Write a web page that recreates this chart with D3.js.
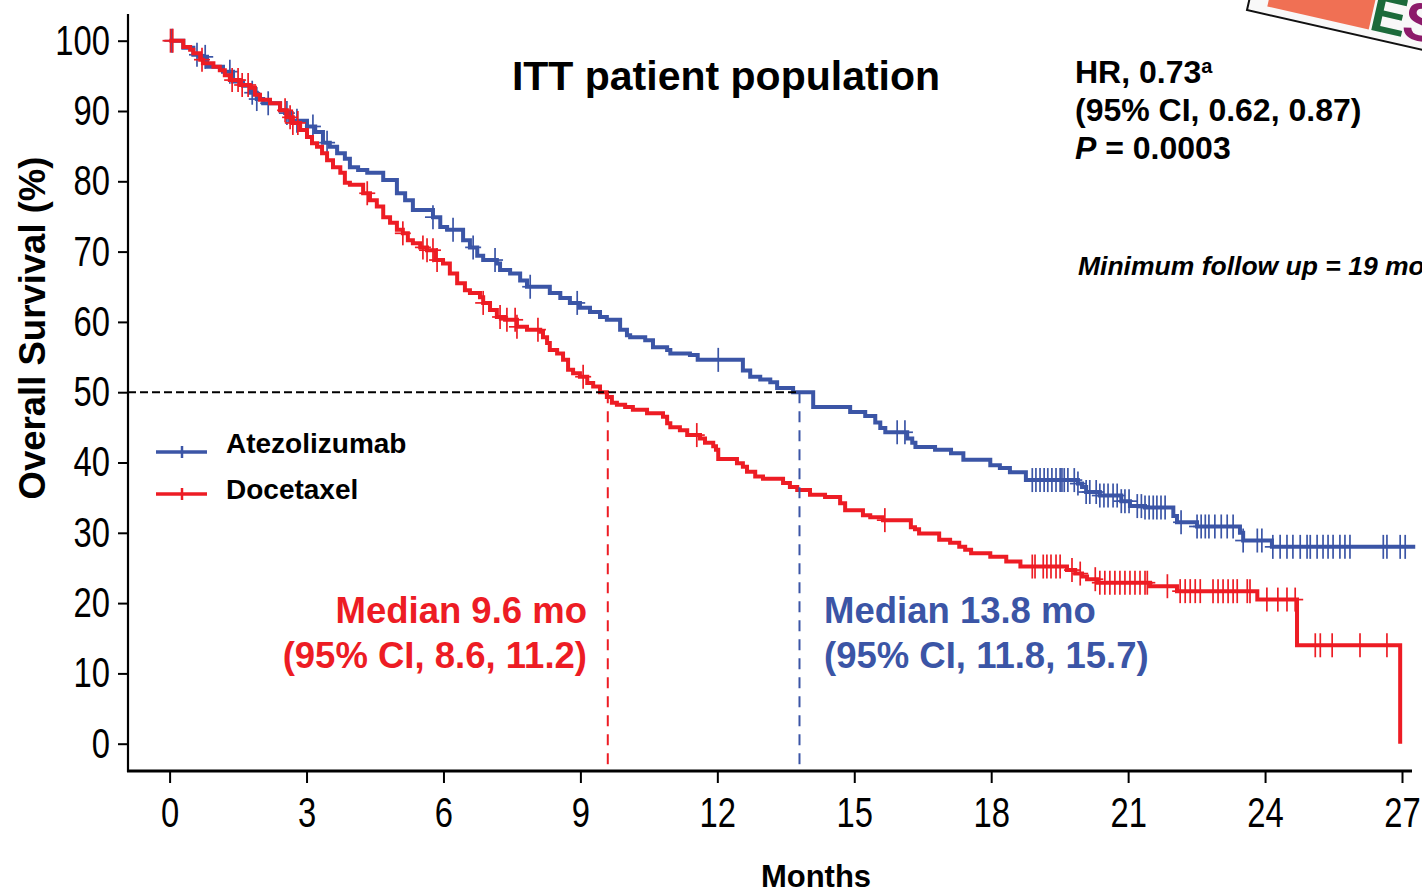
<!DOCTYPE html>
<html><head><meta charset="utf-8">
<script src="https://cdn.jsdelivr.net/npm/d3@7"></script>
<style>body{margin:0;background:#fff}svg{display:block}</style>
</head><body>
<svg id="c" width="1422" height="894"></svg>
<script>
// ---------- data ----------
const monthTicks = [0, 3, 6, 9, 12, 15, 18, 21, 24, 27];
const survTicks = [0, 10, 20, 30, 40, 50, 60, 70, 80, 90, 100];
const seriesNames = ["Atezolizumab", "Docetaxel"];
const medians = [13.8, 9.6];
const medianLabels = [["Median 13.8 mo", "(95% CI, 11.8, 15.7)"], ["Median 9.6 mo", "(95% CI, 8.6, 11.2)"]];

const atezoTime = [0,0.30,0.52,0.66,0.82,1.17,1.39,1.61,1.76,1.91,2.05,2.42,2.53,2.64,3.01,3.19,3.36,3.51,3.67,3.84,3.95,4.13,4.33,4.68,4.98,5.16,5.33,5.77,5.93,6.08,6.43,6.58,6.74,6.87,7.17,7.24,7.46,7.68,7.83,8.33,8.56,8.77,8.99,9.21,9.43,9.58,9.87,10.02,10.09,10.42,10.59,10.90,10.97,11.40,11.57,12.56,12.72,12.94,13.16,13.31,13.66,14.10,14.91,15.24,15.46,15.57,15.68,16.16,16.27,16.34,16.77,17.12,17.39,17.98,18.19,18.41,18.76,19.90,19.99,20.08,20.38,20.85,21.04,21.37,21.99,22.07,22.51,23.45,23.52,24.15,27.29];
const atezoSurv = [100,99,98,97.7,96.3,95.6,94.2,93.6,92.6,91.7,91.1,90.1,89.7,88.6,87.8,87.0,85.5,84.9,84.0,83.2,82.0,81.6,81.2,80.2,78.3,77.3,75.9,74.9,73.5,73.1,71.6,70.6,69.4,68.8,68.3,67.4,66.9,65.9,65.0,64.1,63.4,62.7,62.0,61.4,60.7,60.3,58.9,58.1,57.8,57.4,56.4,56.0,55.5,55.3,54.6,53.1,52.2,51.8,51.4,50.6,50.0,47.9,47.2,46.6,45.7,44.9,44.3,43.4,42.8,42.2,41.8,41.3,40.4,39.6,39.2,38.6,37.5,37.0,36.5,35.8,35.3,34.5,33.8,33.6,32.4,31.5,30.9,30.0,28.9,28.0,28.0];

const doceTime = [0,0.30,0.45,0.52,0.67,0.73,0.96,1.10,1.21,1.32,1.54,1.76,1.87,1.98,2.20,2.42,2.57,2.70,2.86,3.01,3.12,3.23,3.34,3.45,3.58,3.74,3.84,3.95,4.24,4.39,4.54,4.68,4.83,4.98,5.11,5.22,5.33,5.49,5.64,5.82,5.99,6.14,6.30,6.47,6.58,6.80,6.87,7.02,7.17,7.35,7.61,7.83,8.12,8.18,8.27,8.33,8.49,8.62,8.73,8.84,8.99,9.15,9.28,9.43,9.58,9.69,9.80,9.98,10.15,10.46,10.81,10.90,10.97,11.18,11.34,11.62,11.73,11.91,11.97,12.02,12.43,12.56,12.65,12.83,13.00,13.44,13.59,13.75,14.03,14.36,14.69,14.80,15.19,15.35,15.63,16.24,16.33,16.42,16.86,17.10,17.30,17.43,17.56,17.98,18.33,18.64,19.66,19.84,19.99,20.10,20.32,21.48,22.07,23.83,24.70,26.96];
const doceSurv = [100,99.1,98.7,98.2,97.3,96.8,96.3,95.8,95.1,94.4,93.7,93.3,92.3,91.6,91.1,90.1,89.1,88.3,87.3,86.3,85.4,84.9,84.0,83.0,82.0,81.2,79.8,79.5,78.3,77.3,76.4,74.9,74.1,73.1,72.6,71.6,71.2,70.6,70.2,68.8,68.3,66.9,65.5,64.5,64.1,63.5,62.7,61.7,60.7,60.3,59.3,58.9,58.6,57.8,57.0,56.0,55.5,54.6,53.2,52.7,52.2,51.3,50.8,50.0,49.3,48.5,48.2,47.9,47.5,47.0,46.5,45.6,45.0,44.6,43.9,43.4,42.8,42.3,41.8,40.5,39.9,39.4,38.7,38.0,37.7,37.1,36.5,36.1,35.4,35.1,34.2,33.2,32.5,32.2,31.8,30.8,30.5,29.9,29.0,28.6,28.0,27.6,27.1,26.6,25.9,25.2,24.7,24.2,23.8,23.4,22.9,22.4,21.7,20.5,14.0,0];

const atezoCensor = [0.05,0.60,0.78,1.32,1.81,1.91,2.16,2.57,2.79,3.14,3.45,5.77,6.21,6.65,7.13,7.90,8.93,12.02,15.94,16.11,18.90,18.98,19.07,19.16,19.24,19.33,19.42,19.51,19.55,19.60,19.68,19.82,19.90,20.08,20.16,20.30,20.38,20.47,20.56,20.67,20.76,20.85,20.93,21.02,21.20,21.29,21.37,21.46,21.55,21.63,21.72,21.81,22.16,22.51,22.60,22.69,22.77,22.90,23.04,23.17,23.30,23.52,23.83,23.93,24.17,24.33,24.48,24.61,24.77,24.92,24.99,25.14,25.27,25.38,25.49,25.64,25.75,25.86,26.59,26.67,26.96,27.07];
const doceCensor = [0.02,0.07,0.71,1.37,1.50,1.59,1.72,2.53,2.64,2.70,2.81,4.33,5.11,5.55,5.64,5.77,5.86,6.87,7.24,7.39,7.57,7.61,8.07,9.06,11.55,15.67,18.90,18.96,19.14,19.22,19.31,19.42,19.51,19.77,19.95,20.28,20.38,20.49,20.60,20.71,20.82,20.93,21.04,21.15,21.26,21.37,21.42,21.86,22.14,22.25,22.36,22.47,22.58,22.86,22.97,23.08,23.19,23.30,23.39,23.61,23.67,24.04,24.28,24.48,24.66,25.10,25.21,25.47,26.08,26.67];

// ---------- setup ----------
const BLUE = "#3B55A6", RED = "#ED1C24";
const FONT = "'Liberation Sans', Arial, Helvetica, sans-serif";
const svg = d3.select("#c").style("font-family", FONT);
const x = d3.scaleLinear().domain([0, 27]).range([169.6, 1402]);
const y = d3.scaleLinear().domain([0, 100]).range([743.7, 40.7]);
const axisX0 = 128, axisY0 = 771;

// logo fragment (top right)
const logo = svg.append("g").attr("transform", "translate(1247,10) rotate(12.8)");
logo.append("rect").attr("x", 0).attr("y", -90).attr("width", 260).attr("height", 90)
  .attr("fill", "#f8f8f8").attr("stroke", "#111").attr("stroke-width", 2);
logo.append("rect").attr("x", 19).attr("y", -100).attr("width", 104).attr("height", 92).attr("fill", "#F07054");
const lt = logo.append("text").attr("x", 122).attr("y", -8).attr("font-size", 54).attr("font-weight", "bold")
  .attr("letter-spacing", -3);
lt.append("tspan").attr("fill", "#1B6A3A").text("E");
lt.append("tspan").attr("fill", "#8C1A6A").text("S");

// axes
const yAxis = d3.axisLeft(y).tickValues(survTicks).tickSize(10).tickPadding(9);
const gy = svg.append("g").attr("transform", `translate(${axisX0},0)`).call(yAxis);
gy.select(".domain").remove();
gy.selectAll(".tick line").attr("stroke", "#000").attr("stroke-width", 2);
gy.selectAll(".tick text").attr("x", null).attr("fill", "#000")
  .attr("font-size", 42).attr("font-family", FONT).attr("text-anchor", "end")
  .attr("transform", "translate(-18,0) scale(0.78,1)");

const xAxis = d3.axisBottom(x).tickValues(monthTicks).tickSize(12).tickPadding(14);
const gx = svg.append("g").attr("transform", `translate(0,${axisY0})`).call(xAxis);
gx.select(".domain").remove();
gx.selectAll(".tick line").attr("stroke", "#000").attr("stroke-width", 2);
gx.selectAll(".tick text").attr("fill", "#000").attr("font-size", 42).attr("font-family", FONT)
  .attr("transform", "scale(0.78,1)");

svg.append("line").attr("x1", axisX0).attr("x2", axisX0).attr("y1", 14).attr("y2", axisY0 + 1)
  .attr("stroke", "#000").attr("stroke-width", 2.2);
svg.append("line").attr("x1", axisX0 - 1).attr("x2", 1412).attr("y1", axisY0).attr("y2", axisY0)
  .attr("stroke", "#000").attr("stroke-width", 3);

// axis titles
svg.append("text").attr("transform", "translate(45,328) rotate(-90)").attr("text-anchor", "middle")
  .attr("font-size", 36.5).attr("font-weight", "bold").attr("fill", "#000").text("Overall Survival (%)");
svg.append("text").attr("x", 816).attr("y", 887).attr("text-anchor", "middle")
  .attr("font-size", 31).attr("font-weight", "bold").attr("fill", "#000").text("Months");

// KM curves
const line = d3.line().x(d => x(d[0])).y(d => y(d[1])).curve(d3.curveStepAfter);
function survAt(times, surv, t) { const i = d3.bisectRight(times, t) - 1; return surv[Math.max(0, i)]; }
const series = [
  { time: atezoTime, surv: atezoSurv, cens: atezoCensor, color: BLUE },
  { time: doceTime, surv: doceSurv, cens: doceCensor, color: RED }
];
series.forEach(s => {
  const pts = s.time.map((t, i) => [t, s.surv[i]]);
  svg.append("path").attr("d", line(pts)).attr("fill", "none").attr("stroke", s.color)
    .attr("stroke-width", 4).attr("stroke-linejoin", "miter");
  const g = svg.append("g").attr("stroke", s.color).attr("stroke-width", 1.7);
  s.cens.forEach(t => {
    const cx = x(t), cy = y(survAt(s.time, s.surv, t));
    g.append("line").attr("x1", cx).attr("x2", cx).attr("y1", cy - 12).attr("y2", cy + 12);
    g.append("line").attr("x1", cx - 8).attr("x2", cx + 8).attr("y1", cy).attr("y2", cy);
  });
});

// median reference lines
svg.append("line").attr("x1", axisX0).attr("x2", x(medians[0])).attr("y1", y(50)).attr("y2", y(50))
  .attr("stroke", "#000").attr("stroke-width", 2).attr("stroke-dasharray", "8,4");
[[medians[1], RED], [medians[0], BLUE]].forEach(([m, c]) => {
  svg.append("line").attr("x1", x(m)).attr("x2", x(m)).attr("y1", y(50)).attr("y2", axisY0)
    .attr("stroke", c).attr("stroke-width", 2).attr("stroke-dasharray", "11,8");
});

// title & stats
svg.append("text").attr("x", 726).attr("y", 90).attr("text-anchor", "middle")
  .attr("font-size", 41).attr("font-weight", "bold").attr("fill", "#000").text("ITT patient population");
const hr = svg.append("g").attr("font-size", 32).attr("font-weight", "bold").attr("fill", "#000");
const hr1 = hr.append("text").attr("x", 1075).attr("y", 83);
hr1.append("tspan").text("HR, 0.73");
hr1.append("tspan").attr("font-size", 20).attr("dy", -10).text("a");
hr.append("text").attr("x", 1075).attr("y", 121).text("(95% CI, 0.62, 0.87)");
const hr3 = hr.append("text").attr("x", 1075).attr("y", 159);
hr3.append("tspan").attr("font-style", "italic").text("P");
hr3.append("tspan").text(" = 0.0003");
svg.append("text").attr("x", 1078).attr("y", 275).attr("font-size", 26.5).attr("font-weight", "bold")
  .attr("font-style", "italic").attr("fill", "#000").text("Minimum follow up = 19 mo");

// legend
const legend = svg.append("g");
seriesNames.forEach((n, i) => {
  const c = i === 0 ? BLUE : RED;
  const ly = i === 0 ? 452 : 494;
  legend.append("line").attr("x1", 156).attr("x2", 207).attr("y1", ly).attr("y2", ly).attr("stroke", c).attr("stroke-width", 3.6);
  legend.append("line").attr("x1", 182).attr("x2", 182).attr("y1", ly - 6).attr("y2", ly + 6).attr("stroke", c).attr("stroke-width", 2.5);
  legend.append("text").attr("x", 226).attr("y", i === 0 ? 453 : 499).attr("font-size", 28).attr("font-weight", "bold")
    .attr("fill", "#000").text(n);
});

// median annotations
medianLabels[1].forEach((t, i) => {
  svg.append("text").attr("x", 587).attr("y", 623 + i * 45).attr("text-anchor", "end").attr("font-size", 36.5)
    .attr("font-weight", "bold").attr("fill", RED).text(t);
});
medianLabels[0].forEach((t, i) => {
  svg.append("text").attr("x", 824).attr("y", 623 + i * 45).attr("font-size", 36.5)
    .attr("font-weight", "bold").attr("fill", BLUE).text(t);
});
</script>
</body></html>
